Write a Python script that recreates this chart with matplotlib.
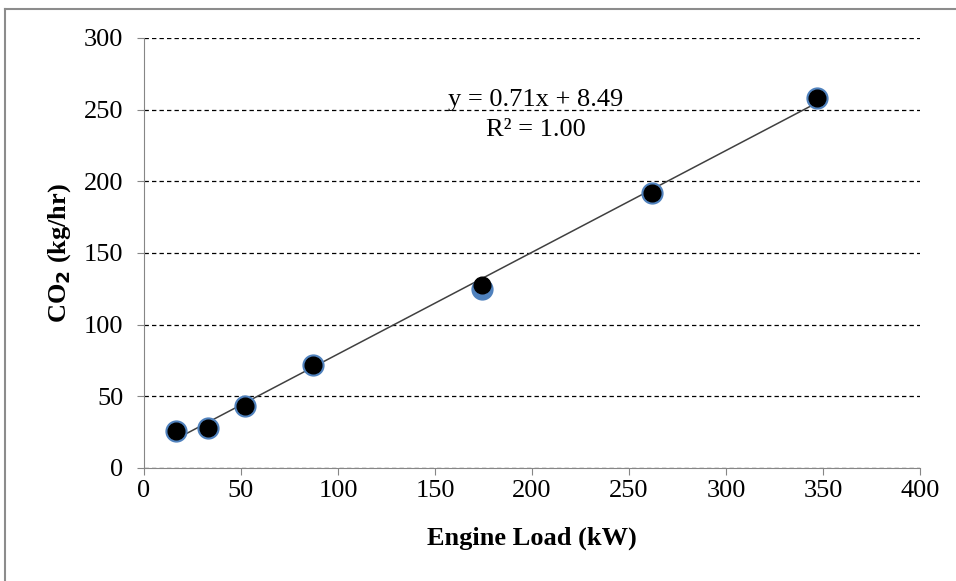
import numpy as np
import matplotlib
matplotlib.use("Agg")
import matplotlib.pyplot as plt
from matplotlib.lines import Line2D

plt.rcParams['font.family'] = ['Liberation Serif', 'DejaVu Serif']

# engine load (kW) and CO2 emission rate (kg/hr)
load = [16.5, 33, 52, 87, 174, 262, 347]
co2_meas = [26, 28, 43.5, 72, 125, 192, 258]
co2_calc = [26, 28, 43.5, 72, 128, 192, 258]

# linear trendline
slope = 0.71
intercept = 8.49
r2 = 1.00

fig = plt.figure(figsize=(9.56, 5.81), dpi=100)
ax = fig.add_axes([0.1506, 0.1945, 0.8117, 0.7401])

xs = np.array([min(load), max(load)])
ax.plot(xs, slope * xs + intercept, color='#404040', lw=1.1, zorder=2)

ax.plot(load, co2_meas, 'o', ms=15, mfc='#4f81bd', mec='#4f81bd', zorder=3)
ax.plot(load, co2_calc, 'o', ms=12, mfc='black', mec='black', zorder=4)

ax.set_xlim(0, 400)
ax.set_ylim(0, 300)
ax.set_xticks(np.arange(0, 401, 50))
ax.set_yticks(np.arange(0, 301, 50))
ax.yaxis.grid(True, ls=(0, (3.5, 2.5)), color='black', lw=0.9)
ax.set_axisbelow(True)

for s in ['top', 'right']:
    ax.spines[s].set_visible(False)
for s in ['left', 'bottom']:
    ax.spines[s].set_color('#868686')
ax.tick_params(axis='both', colors='#868686', labelcolor='black', labelsize=19,
               length=5, direction='out')
ax.tick_params(axis='y', pad=10)

ax.set_xlabel('Engine Load (kW)', fontsize=19, fontweight='bold', labelpad=18)
ax.set_ylabel('CO$_\\mathbf{2}$ (kg/hr)', fontsize=19, fontweight='bold', labelpad=8)

ax.text(202, 257, 'y = %.2fx + %.2f' % (slope, intercept), ha='center', va='center', fontsize=19)
ax.text(202, 236, 'R² = %.2f' % r2, ha='center', va='center', fontsize=19)

# outer chart frame
fig.add_artist(Line2D([5 / 956, 5 / 956], [0, 1 - 9 / 581], transform=fig.transFigure,
                      color='#8c8c8c', lw=1.5))
fig.add_artist(Line2D([5 / 956, 1], [1 - 9 / 581, 1 - 9 / 581], transform=fig.transFigure,
                      color='#8c8c8c', lw=1.5))

fig.savefig('out.png', dpi=100)
